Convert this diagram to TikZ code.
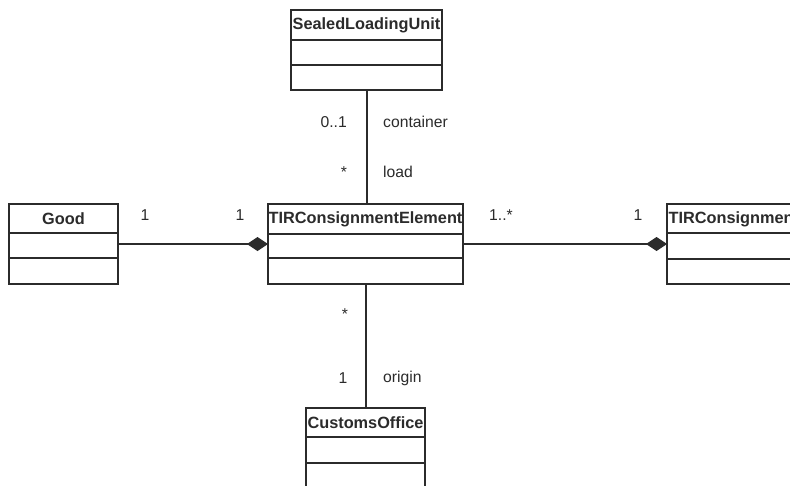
\documentclass[tikz,border=0pt]{standalone}
\usepackage{fontspec}
\setmainfont{Liberation Sans}
\usetikzlibrary{arrows.meta,calc}
\definecolor{ink}{HTML}{2B2B2B}
\tikzset{
  cls/.style={draw=ink, line width=1.4pt, inner sep=0pt, outer sep=0pt, anchor=north west, fill=white},
  clsbold/.style={cls, line width=2.4pt},
  ttl/.style={font=\fontsize{16.3}{17}\selectfont\bfseries, text=ink, inner sep=0pt},
  sep/.style={draw=ink, line width=1.4pt},
  assoc/.style={draw=ink, line width=1.1pt},
  comp/.style={assoc, {Diamond[length=21pt,width=14pt]}-},
  lbl/.style={font=\fontsize{15.7}{17}\selectfont, text=ink, inner sep=0pt}
}
\begin{document}
\begin{tikzpicture}[x=1pt,y=-1pt]
\useasboundingbox (0,0) rectangle (790,485);
\clip (0,0) rectangle (790,485);
\fill[white] (0,0) rectangle (790,485);
% classes
\node[cls, minimum width=151pt, minimum height=80pt] (slu) at (291,10) {};
\node[ttl] at ($(slu.north)+(0,15)$) {SealedLoadingUnit};
\draw[sep] ($(slu.north west)+(0,30)$) -- ($(slu.north east)+(0,30)$);
\draw[sep] ($(slu.north west)+(0,55)$) -- ($(slu.north east)+(0,55)$);

\node[cls, minimum width=109pt, minimum height=80pt] (good) at (9,204) {};
\node[ttl] at ($(good.north)+(0,15)$) {Good};
\draw[sep] ($(good.north west)+(0,29)$) -- ($(good.north east)+(0,29)$);
\draw[sep] ($(good.north west)+(0,54)$) -- ($(good.north east)+(0,54)$);

\node[clsbold, minimum width=195pt, minimum height=80pt] (tce) at (268,204) {};
\node[ttl] at ($(tce.north)+(0,15)$) {TIRConsignmentElement};
\draw[sep, line width=2pt] ($(tce.north west)+(0,30)$) -- ($(tce.north east)+(0,30)$);
\draw[sep, line width=2pt] ($(tce.north west)+(0,54)$) -- ($(tce.north east)+(0,54)$);

\node[cls, minimum width=140pt, minimum height=80pt] (tc) at (667,204) {};
\node[ttl, anchor=west] at ($(tc.north west)+(1.5,15)$) {TIRConsignment};
\draw[sep] ($(tc.north west)+(0,29)$) -- ($(tc.north east)+(0,29)$);
\draw[sep] ($(tc.north west)+(0,55)$) -- ($(tc.north east)+(0,55)$);

\node[cls, minimum width=119pt, minimum height=85pt] (co) at (306,408) {};
\node[ttl] at ($(co.north)+(0,15)$) {CustomsOffice};
\draw[sep] ($(co.north west)+(0,29)$) -- ($(co.north east)+(0,29)$);
\draw[sep] ($(co.north west)+(0,55)$) -- ($(co.north east)+(0,55)$);

% connectors
\coordinate (vx1) at (367,0);
\coordinate (vx2) at (366,0);
\coordinate (hy) at (0,244);
\draw[assoc] (slu.south -| vx1) -- (tce.north -| vx1);
\draw[assoc] (tce.south -| vx2) -- (co.north -| vx2);
\draw[comp] (tce.west |- hy) -- (good.east |- hy);
\draw[comp] (tc.west |- hy) -- (tce.east |- hy);

% labels
\node[lbl, anchor=east] at (347,122) {0..1};
\node[lbl, anchor=west] at (383,122) {container};
\node[lbl] at (344,172) {*};
\node[lbl, anchor=west] at (383,172) {load};
\node[lbl] at (145,215) {1};
\node[lbl] at (240,215) {1};
\node[lbl, anchor=west] at (489,215) {1..*};
\node[lbl] at (638,215) {1};
\node[lbl] at (345,314) {*};
\node[lbl] at (343,378) {1};
\node[lbl, anchor=west] at (383,378) {origin};
\end{tikzpicture}
\end{document}
